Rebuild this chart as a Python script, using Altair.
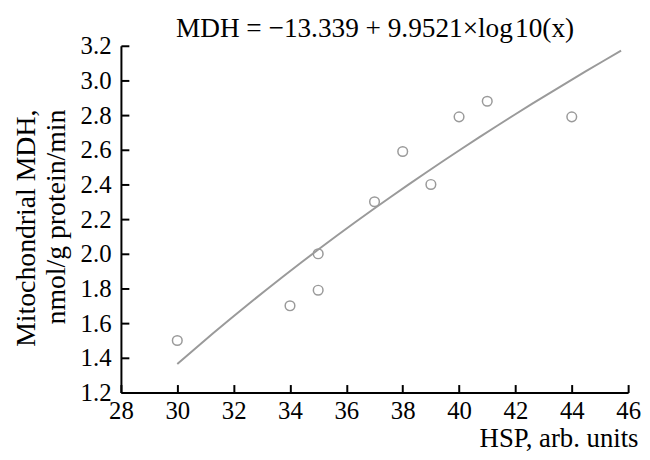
import altair as alt
import pandas as pd

# Data
hsp = [30, 34, 35, 35, 37, 38, 39, 40, 41, 44]
mdh = [1.50, 1.70, 1.79, 2.00, 2.30, 2.59, 2.40, 2.79, 2.88, 2.79]
x_ticks = [28, 30, 32, 34, 36, 38, 40, 42, 44, 46]
y_ticks = [1.2, 1.4, 1.6, 1.8, 2.0, 2.2, 2.4, 2.6, 2.8, 3.0, 3.2]
fit_extent = [30, 45.75]
title_text = "MDH = \u221213.339 + 9.9521\u00d7log\u200a10(x)"
x_title = "HSP, arb. units"
y_title = ["Mitochondrial MDH,", "nmol/g protein/min"]

df = pd.DataFrame({"hsp": hsp, "mdh": mdh})

FONT = "Liberation Serif"
GRAY = "#9a9a9a"
W, H = 512, 350

xscale = alt.Scale(domain=[28, 46], nice=False, zero=False)
yscale = alt.Scale(domain=[1.2, 3.2], nice=False, zero=False)

points = alt.Chart(df).mark_point(
    shape="circle", filled=False, size=95, strokeWidth=1.5, color=GRAY, opacity=1
).encode(
    x=alt.X("hsp:Q", scale=xscale,
            axis=alt.Axis(values=x_ticks, ticks=False, grid=False, domainColor="black",
                          domainWidth=2, labelFont=FONT, labelFontSize=25, labelColor="black",
                          labelPadding=6, labelFlush=False, labelOverlap=False,
                          title=x_title, titleFont=FONT, titleFontSize=27,
                          titleFontWeight="normal", titleColor="black",
                          titleAlign="right", titleBaseline="alphabetic",
                          titleX=522, titleY=55)),
    y=alt.Y("mdh:Q", scale=yscale,
            axis=alt.Axis(values=y_ticks, format=".1f", ticks=False, grid=False,
                          domainColor="black", domainWidth=2, labelFont=FONT,
                          labelFontSize=25, labelColor="black", labelPadding=10,
                          labelFlush=False, labelOverlap=False,
                          title=y_title, titleFont=FONT, titleFontSize=28,
                          titleFontWeight="normal", titleColor="black",
                          titleAlign="right", titleBaseline="alphabetic",
                          titleAngle=270, titleLineHeight=30,
                          titleX=-87, titleY=64)),
)

curve = alt.Chart(df).transform_regression(
    "hsp", "mdh", method="log", extent=fit_extent
).mark_line(color=GRAY, strokeWidth=2).encode(
    x=alt.X("hsp:Q", scale=xscale,
            axis=alt.Axis(orient="top", offset=-H, values=x_ticks, labels=False,
                          domain=False, grid=False, ticks=True, tickSize=8,
                          tickWidth=2, tickColor="black",
                          title=title_text, titleFont=FONT, titleFontSize=27.5,
                          titleFontWeight="normal", titleColor="black",
                          titleAlign="center", titleBaseline="alphabetic",
                          titleX=W / 2, titleY=-H - 9)),
    y=alt.Y("mdh:Q", scale=yscale,
            axis=alt.Axis(orient="right", offset=-W, values=y_ticks, labels=False,
                          domain=False, grid=False, ticks=True, tickSize=8,
                          tickWidth=2, tickColor="black", title=None)),
)

chart = alt.layer(points, curve).resolve_axis(
    x="independent", y="independent"
).properties(
    width=W,
    height=H,
    autosize="none",
    padding={"left": 114, "top": 36, "right": 14, "bottom": 62},
).configure_view(stroke=None)

chart.save("out.html", embed_options={"renderer": "svg", "actions": False})
